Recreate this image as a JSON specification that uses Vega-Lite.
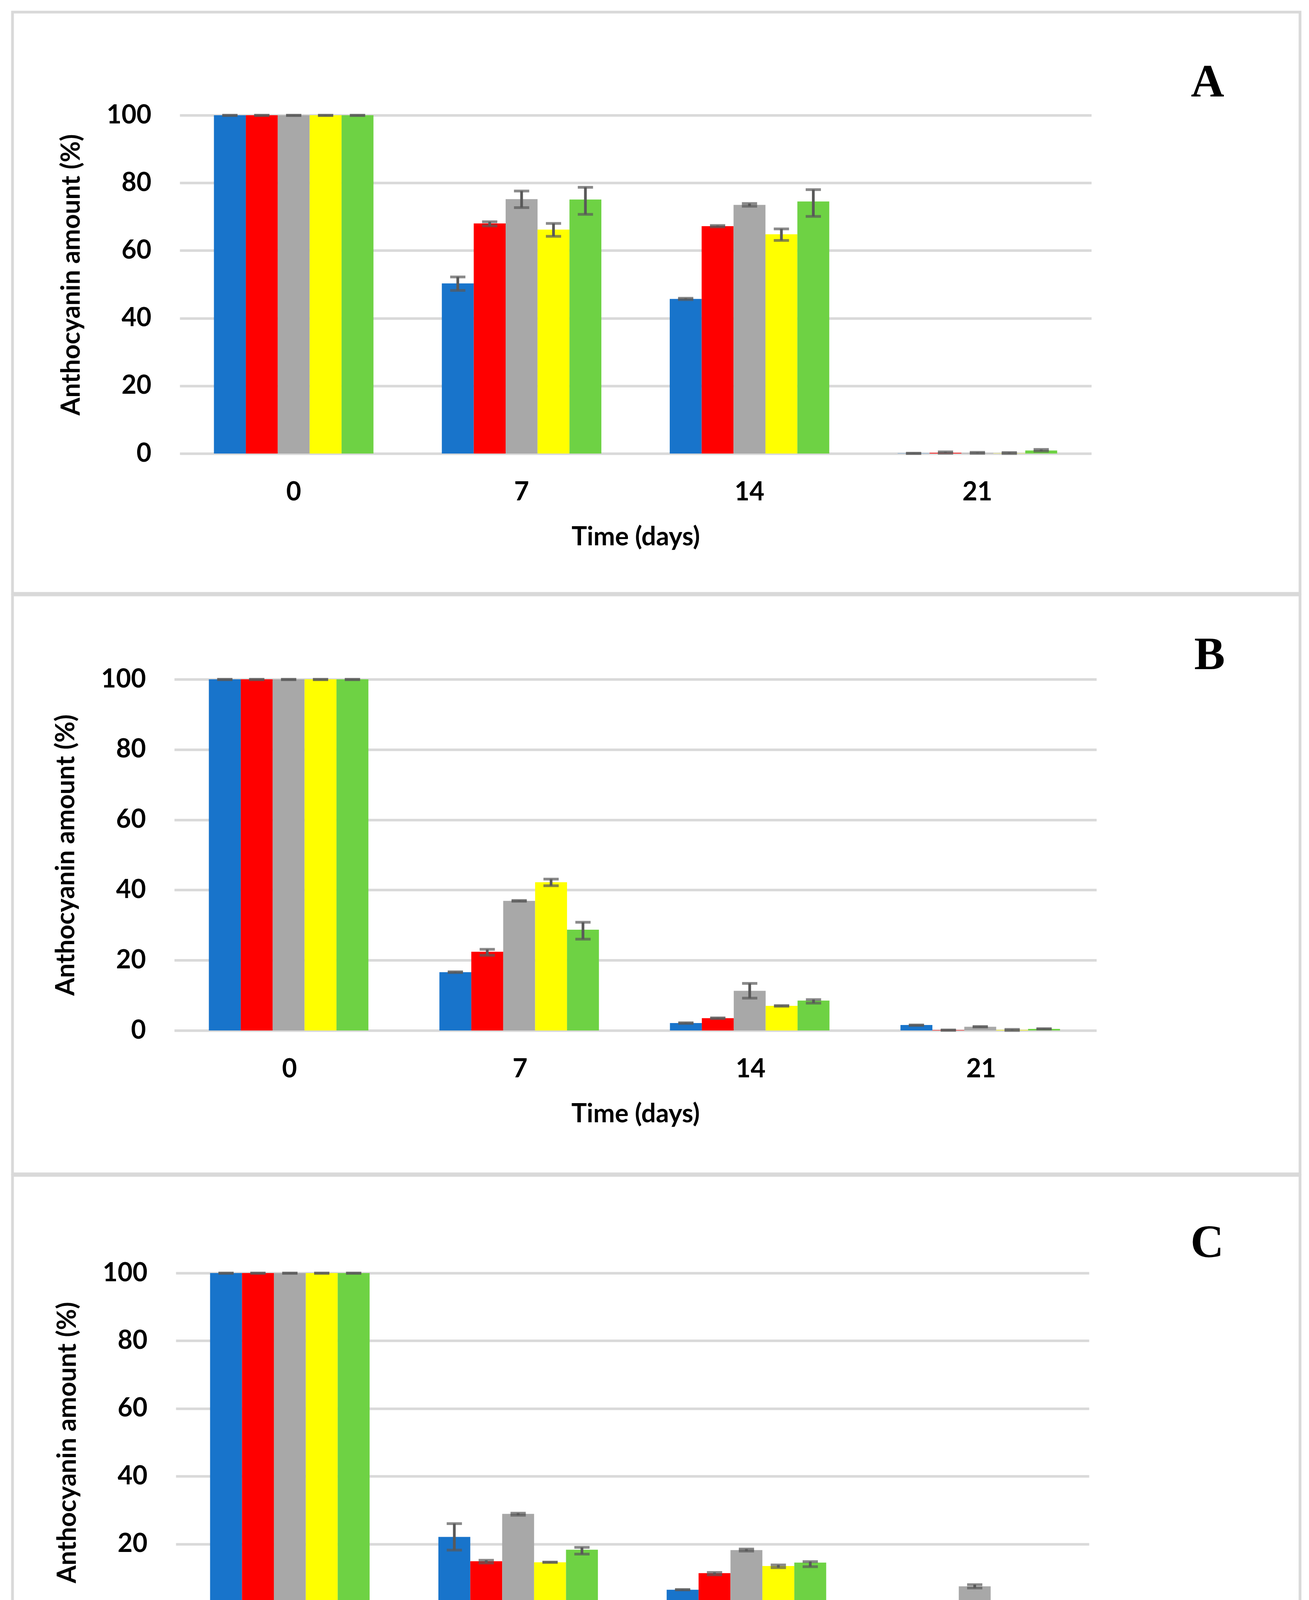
{
  "$schema": "https://vega.github.io/schema/vega-lite/v6.json",
  "background": "white",
  "padding": {"left": 28, "top": 27, "right": 0, "bottom": 0},
  "spacing": -13,
  "config": {
    "view": {"stroke": "#d9d9d9", "strokeWidth": 7},
    "axis": {"labelFont": "Lato", "titleFont": "Lato", "labelFontWeight": "bold", "titleFontWeight": "bold", "labelColor": "black", "titleColor": "black", "labelFontSize": 66, "titleFontSize": 66, "ticks": false, "domain": false}
  },
  "datasets": {
    "A": [
      {"day": "0", "series": "S1", "value": 100, "lo": 99.9, "hi": 100},
      {"day": "0", "series": "S2", "value": 100, "lo": 99.9, "hi": 100},
      {"day": "0", "series": "S3", "value": 100, "lo": 99.9, "hi": 100},
      {"day": "0", "series": "S4", "value": 100, "lo": 99.9, "hi": 100},
      {"day": "0", "series": "S5", "value": 100, "lo": 99.9, "hi": 100},
      {"day": "7", "series": "S1", "value": 50.3, "lo": 48.2, "hi": 52.2},
      {"day": "7", "series": "S2", "value": 68.0, "lo": 67.3, "hi": 68.5},
      {"day": "7", "series": "S3", "value": 75.2, "lo": 72.7, "hi": 77.6},
      {"day": "7", "series": "S4", "value": 66.2, "lo": 64.2, "hi": 68.0},
      {"day": "7", "series": "S5", "value": 75.1, "lo": 70.7, "hi": 78.7},
      {"day": "14", "series": "S1", "value": 45.7, "lo": 45.5, "hi": 45.9},
      {"day": "14", "series": "S2", "value": 67.2, "lo": 67.0, "hi": 67.4},
      {"day": "14", "series": "S3", "value": 73.5, "lo": 73.1, "hi": 73.9},
      {"day": "14", "series": "S4", "value": 64.8, "lo": 63.0, "hi": 66.4},
      {"day": "14", "series": "S5", "value": 74.5, "lo": 70.1, "hi": 78.0},
      {"day": "21", "series": "S1", "value": 0.05, "lo": 0, "hi": 0.1},
      {"day": "21", "series": "S2", "value": 0.2, "lo": 0.1, "hi": 0.5},
      {"day": "21", "series": "S3", "value": 0.15, "lo": 0.05, "hi": 0.35},
      {"day": "21", "series": "S4", "value": 0.05, "lo": 0, "hi": 0.3},
      {"day": "21", "series": "S5", "value": 0.9, "lo": 0.7, "hi": 1.2}
    ],
    "B": [
      {"day": "0", "series": "S1", "value": 100, "lo": 99.9, "hi": 100},
      {"day": "0", "series": "S2", "value": 100, "lo": 99.9, "hi": 100},
      {"day": "0", "series": "S3", "value": 100, "lo": 99.9, "hi": 100},
      {"day": "0", "series": "S4", "value": 100, "lo": 99.9, "hi": 100},
      {"day": "0", "series": "S5", "value": 100, "lo": 99.9, "hi": 100},
      {"day": "7", "series": "S1", "value": 16.6, "lo": 16.5, "hi": 16.7},
      {"day": "7", "series": "S2", "value": 22.4, "lo": 21.4, "hi": 23.1},
      {"day": "7", "series": "S3", "value": 36.9, "lo": 36.8, "hi": 37.0},
      {"day": "7", "series": "S4", "value": 42.2, "lo": 41.2, "hi": 43.1},
      {"day": "7", "series": "S5", "value": 28.7, "lo": 26.0, "hi": 30.8},
      {"day": "14", "series": "S1", "value": 2.1, "lo": 2.0, "hi": 2.2},
      {"day": "14", "series": "S2", "value": 3.5, "lo": 3.4, "hi": 3.6},
      {"day": "14", "series": "S3", "value": 11.3, "lo": 9.2, "hi": 13.4},
      {"day": "14", "series": "S4", "value": 7.0, "lo": 6.9, "hi": 7.1},
      {"day": "14", "series": "S5", "value": 8.5, "lo": 7.8, "hi": 8.8},
      {"day": "21", "series": "S1", "value": 1.55, "lo": 1.45, "hi": 1.55},
      {"day": "21", "series": "S2", "value": 0.1, "lo": 0.05, "hi": 0.15},
      {"day": "21", "series": "S3", "value": 1.05, "lo": 1.0, "hi": 1.1},
      {"day": "21", "series": "S4", "value": 0.15, "lo": 0, "hi": 0.3},
      {"day": "21", "series": "S5", "value": 0.45, "lo": 0.4, "hi": 0.5}
    ],
    "C": [
      {"day": "0", "series": "S1", "value": 100, "lo": 99.9, "hi": 100},
      {"day": "0", "series": "S2", "value": 100, "lo": 99.9, "hi": 100},
      {"day": "0", "series": "S3", "value": 100, "lo": 99.9, "hi": 100},
      {"day": "0", "series": "S4", "value": 100, "lo": 99.9, "hi": 100},
      {"day": "0", "series": "S5", "value": 100, "lo": 99.9, "hi": 100},
      {"day": "3", "series": "S1", "value": 22.1, "lo": 18.2, "hi": 26.0},
      {"day": "3", "series": "S2", "value": 14.9, "lo": 14.4, "hi": 15.2},
      {"day": "3", "series": "S3", "value": 28.9, "lo": 28.5, "hi": 29.1},
      {"day": "3", "series": "S4", "value": 14.6, "lo": 14.55, "hi": 14.65},
      {"day": "3", "series": "S5", "value": 18.3, "lo": 17.0, "hi": 19.0},
      {"day": "8", "series": "S1", "value": 6.5, "lo": 6.45, "hi": 6.55},
      {"day": "8", "series": "S2", "value": 11.4, "lo": 10.9, "hi": 11.6},
      {"day": "8", "series": "S3", "value": 18.2, "lo": 17.9, "hi": 18.5},
      {"day": "8", "series": "S4", "value": 13.5, "lo": 13.0, "hi": 13.8},
      {"day": "8", "series": "S5", "value": 14.5, "lo": 13.3, "hi": 14.8},
      {"day": "12", "series": "S1", "value": 0.1, "lo": 0.05, "hi": 0.15},
      {"day": "12", "series": "S2", "value": 2.35, "lo": 2.25, "hi": 2.45},
      {"day": "12", "series": "S3", "value": 7.5, "lo": 7.0, "hi": 8.0},
      {"day": "12", "series": "S4", "value": 1.4, "lo": 1.35, "hi": 1.45},
      {"day": "12", "series": "S5", "value": 2.2, "lo": 1.8, "hi": 2.4}
    ]
  },
  "vconcat": [
    {
      "width": 3295,
      "height": 1488,
      "data": {"name": "A"},
      "title": {"text": "A", "anchor": "end", "frame": "group", "orient": "top", "offset": 0, "dx": -194, "dy": 334, "baseline": "alphabetic", "font": "Liberation Serif", "fontSize": 118, "fontWeight": "bold", "color": "black"},
      "encoding": {
        "x": {"field": "day", "type": "nominal", "sort": ["0", "7", "14", "21"], "scale": {"range": [428, 2761], "paddingInner": 0.3, "paddingOuter": 0.15}, "axis": {"title": "Time (days)", "labelAngle": 0, "labelPadding": 67, "titlePadding": 50, "offset": -358, "grid": false}},
        "xOffset": {"field": "series", "type": "nominal", "sort": ["S1", "S2", "S3", "S4", "S5"]}
      },
      "layer": [
        {"mark": {"type": "bar"}, "encoding": {
          "y": {"field": "value", "type": "quantitative", "title": "Anthocyanin amount (%)", "scale": {"domain": [0, 100], "range": [1130, 264], "nice": false}, "axis": {"values": [0, 20, 40, 60, 80, 100], "grid": true, "gridColor": "#d9d9d9", "gridWidth": 6.5, "labelPadding": 73, "titlePadding": 55, "offset": -428, "titleY": 672}},
          "color": {"field": "series", "type": "nominal", "scale": {"domain": ["S1", "S2", "S3", "S4", "S5"], "range": ["#1874cb", "#ff0000", "#a8a8a8", "#ffff00", "#6ed244"]}, "legend": null}}},
        {"mark": {"type": "rule", "color": "#595959", "strokeWidth": 7}, "encoding": {"y": {"field": "lo", "type": "quantitative", "title": "Anthocyanin amount (%)"}, "y2": {"field": "hi"}}},
        {"mark": {"type": "tick", "color": "#595959", "size": 39, "thickness": 7}, "encoding": {"y": {"field": "lo", "type": "quantitative", "title": "Anthocyanin amount (%)"}}},
        {"mark": {"type": "tick", "color": "#595959", "size": 39, "thickness": 7}, "encoding": {"y": {"field": "hi", "type": "quantitative", "title": "Anthocyanin amount (%)"}}}
      ]
    },
    {
      "width": 3295,
      "height": 1482,
      "data": {"name": "B"},
      "title": {"text": "B", "anchor": "end", "frame": "group", "orient": "top", "offset": 0, "dx": -192, "dy": 308, "baseline": "alphabetic", "font": "Liberation Serif", "fontSize": 118, "fontWeight": "bold", "color": "black"},
      "encoding": {
        "x": {"field": "day", "type": "nominal", "sort": ["0", "7", "14", "21"], "scale": {"range": [414, 2774], "paddingInner": 0.3, "paddingOuter": 0.15}, "axis": {"title": "Time (days)", "labelAngle": 0, "labelPadding": 67, "titlePadding": 50, "offset": -367, "grid": false}},
        "xOffset": {"field": "series", "type": "nominal", "sort": ["S1", "S2", "S3", "S4", "S5"]}
      },
      "layer": [
        {"mark": {"type": "bar"}, "encoding": {
          "y": {"field": "value", "type": "quantitative", "title": "Anthocyanin amount (%)", "scale": {"domain": [0, 100], "range": [1115, 216], "nice": false}, "axis": {"values": [0, 20, 40, 60, 80, 100], "grid": true, "gridColor": "#d9d9d9", "gridWidth": 6.5, "labelPadding": 73, "titlePadding": 55, "offset": -414}},
          "color": {"field": "series", "type": "nominal", "scale": {"domain": ["S1", "S2", "S3", "S4", "S5"], "range": ["#1874cb", "#ff0000", "#a8a8a8", "#ffff00", "#6ed244"]}, "legend": null}}},
        {"mark": {"type": "rule", "color": "#595959", "strokeWidth": 7}, "encoding": {"y": {"field": "lo", "type": "quantitative", "title": "Anthocyanin amount (%)"}, "y2": {"field": "hi"}}},
        {"mark": {"type": "tick", "color": "#595959", "size": 39, "thickness": 7}, "encoding": {"y": {"field": "lo", "type": "quantitative", "title": "Anthocyanin amount (%)"}}},
        {"mark": {"type": "tick", "color": "#595959", "size": 39, "thickness": 7}, "encoding": {"y": {"field": "hi", "type": "quantitative", "title": "Anthocyanin amount (%)"}}}
      ]
    },
    {
      "width": 3295,
      "height": 1490,
      "data": {"name": "C"},
      "title": {"text": "C", "anchor": "end", "frame": "group", "orient": "top", "offset": 0, "dx": -195, "dy": 327, "baseline": "alphabetic", "font": "Liberation Serif", "fontSize": 118, "fontWeight": "bold", "color": "black"},
      "encoding": {
        "x": {"field": "day", "type": "nominal", "sort": ["0", "3", "8", "12"], "scale": {"range": [418, 2755], "paddingInner": 0.3, "paddingOuter": 0.15}, "axis": {"title": "Time (days)", "labelAngle": 0, "labelPadding": 67, "titlePadding": 50, "offset": -373, "grid": false}},
        "xOffset": {"field": "series", "type": "nominal", "sort": ["S1", "S2", "S3", "S4", "S5"]}
      },
      "layer": [
        {"mark": {"type": "bar"}, "encoding": {
          "y": {"field": "value", "type": "quantitative", "title": "Anthocyanin amount (%)", "scale": {"domain": [0, 100], "range": [1117, 250], "nice": false}, "axis": {"values": [0, 20, 40, 60, 80, 100], "grid": true, "gridColor": "#d9d9d9", "gridWidth": 6.5, "labelPadding": 73, "titlePadding": 55, "offset": -418}},
          "color": {"field": "series", "type": "nominal", "scale": {"domain": ["S1", "S2", "S3", "S4", "S5"], "range": ["#1874cb", "#ff0000", "#a8a8a8", "#ffff00", "#6ed244"]}, "legend": null}}},
        {"mark": {"type": "rule", "color": "#595959", "strokeWidth": 7}, "encoding": {"y": {"field": "lo", "type": "quantitative", "title": "Anthocyanin amount (%)"}, "y2": {"field": "hi"}}},
        {"mark": {"type": "tick", "color": "#595959", "size": 39, "thickness": 7}, "encoding": {"y": {"field": "lo", "type": "quantitative", "title": "Anthocyanin amount (%)"}}},
        {"mark": {"type": "tick", "color": "#595959", "size": 39, "thickness": 7}, "encoding": {"y": {"field": "hi", "type": "quantitative", "title": "Anthocyanin amount (%)"}}}
      ]
    }
  ]
}
